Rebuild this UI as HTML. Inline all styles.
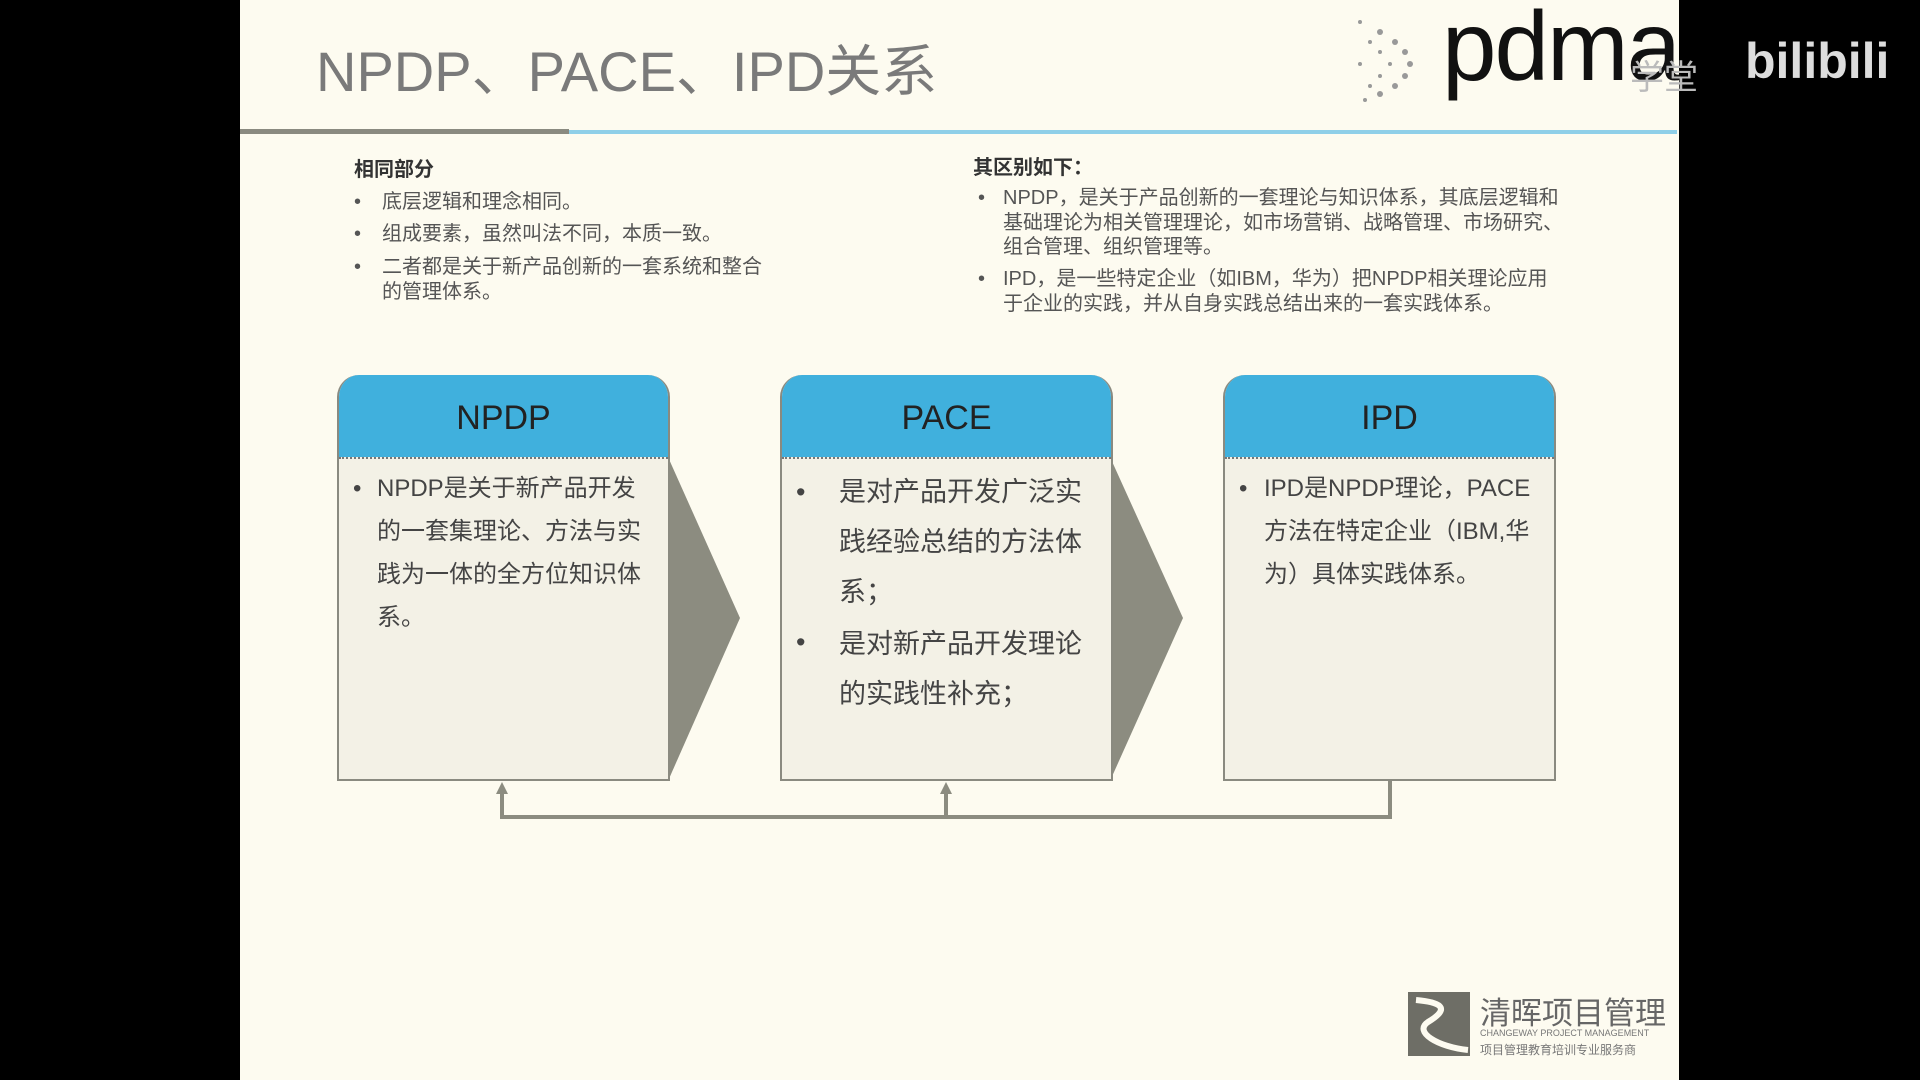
<!DOCTYPE html>
<html><head><meta charset="utf-8"><style>
*{margin:0;padding:0;box-sizing:border-box}
body{width:1920px;height:1080px;background:#000;position:relative;overflow:hidden;font-family:"Liberation Sans","Noto Sans CJK SC",sans-serif}
.slide{position:absolute;left:240px;top:0;width:1439px;height:1080px;background:#fdfbf0}
.a{position:absolute;white-space:nowrap}
.sm{font-size:20px;color:#555;line-height:24.5px}
.box{position:absolute;top:375px;width:333px;height:406px;border:2px solid #8a8a80;border-top:none;background:#f3f1e6;border-radius:22px 22px 0 0;overflow:hidden}
.hd{height:82px;background:#40b0dd;text-align:center;font-size:34px;line-height:86px;color:#222}
.bd{position:relative;border-top:2px dotted #777;color:#444}
</style></head><body>
<div class="slide"></div>
<div class="a" style="left:316px;top:27px;font-size:56px;color:#7a7a7a">NPDP、PACE、IPD关系</div>
<div class="a" style="left:240px;top:129px;width:329px;height:5px;background:#8a8a80"></div>
<div class="a" style="left:569px;top:130px;width:1108px;height:4px;background:#8fcfe8"></div>
<svg class="a" style="left:1340px;top:12px" width="100" height="90">
<g fill="#999">
<circle cx="20" cy="10" r="2"/><circle cx="40" cy="20" r="3"/><circle cx="55" cy="30" r="3"/><circle cx="65" cy="40" r="3"/><circle cx="70" cy="52" r="3"/><circle cx="65" cy="64" r="3"/><circle cx="55" cy="74" r="3"/><circle cx="40" cy="82" r="3"/><circle cx="25" cy="88" r="2"/>
<circle cx="30" cy="30" r="2"/><circle cx="40" cy="40" r="2"/><circle cx="50" cy="52" r="2"/><circle cx="40" cy="64" r="2"/><circle cx="30" cy="74" r="2"/><circle cx="20" cy="52" r="2"/>
</g></svg>
<div class="a" style="left:1442px;top:-10px;font-size:98px;color:#111;letter-spacing:-2px">pdma</div>
<div class="a" style="left:1630px;top:50px;font-size:34px;color:#bbb">学堂</div>
<div class="a" style="left:1745px;top:32px;font-size:50px;font-weight:bold;color:#ddd">bilibili</div>
<div class="a sm" style="left:354px;top:158px;font-weight:bold;color:#333">相同部分</div>
<div class="a sm" style="left:354px;top:190px">•</div><div class="a sm" style="left:382px;top:190px">底层逻辑和理念相同。</div>
<div class="a sm" style="left:354px;top:222px">•</div><div class="a sm" style="left:382px;top:222px">组成要素，虽然叫法不同，本质一致。</div>
<div class="a sm" style="left:354px;top:255px">•</div><div class="a sm" style="left:382px;top:255px">二者都是关于新产品创新的一套系统和整合<br>的管理体系。</div>
<div class="a sm" style="left:973px;top:156px;font-weight:bold;color:#333">其区别如下：</div>
<div class="a sm" style="left:978px;top:186px">•</div><div class="a sm" style="left:1003px;top:186px">NPDP，是关于产品创新的一套理论与知识体系，其底层逻辑和<br>基础理论为相关管理理论，如市场营销、战略管理、市场研究、<br>组合管理、组织管理等。</div>
<div class="a sm" style="left:978px;top:267px">•</div><div class="a sm" style="left:1003px;top:267px">IPD，是一些特定企业（如IBM，华为）把NPDP相关理论应用<br>于企业的实践，并从自身实践总结出来的一套实践体系。</div>
<svg class="a" style="left:0;top:0" width="1920" height="1080">
<polygon points="668,457 740,618 668,781" fill="#8c8c80"/>
<polygon points="1110,457 1183,618 1110,781" fill="#8c8c80"/>
<polyline points="1390,781 1390,817 502,817 502,790" fill="none" stroke="#8c8c80" stroke-width="4"/>
<line x1="946" y1="817" x2="946" y2="790" stroke="#8c8c80" stroke-width="4"/>
<polygon points="496,794 508,794 502,782" fill="#8c8c80"/>
<polygon points="940,794 952,794 946,782" fill="#8c8c80"/>
</svg>
<div class="box" style="left:337px"><div class="hd">NPDP</div><div class="bd" style="font-size:24px;line-height:43px;padding-top:8px">
<div class="a" style="left:14px;top:8px">•</div><div style="margin-left:38px;width:280px">NPDP是关于新产品开发的一套集理论、方法与实践为一体的全方位知识体系。</div></div></div>
<div class="box" style="left:780px"><div class="hd">PACE</div><div class="bd" style="font-size:27px;line-height:50px;padding-top:8px">
<div class="a" style="left:14px;top:8px">•</div><div style="margin-left:57px;width:260px">是对产品开发广泛实践经验总结的方法体系；</div>
<div class="a" style="left:14px;top:158px">•</div><div style="margin-left:57px;width:260px;margin-top:2px">是对新产品开发理论的实践性补充；</div></div></div>
<div class="box" style="left:1223px"><div class="hd">IPD</div><div class="bd" style="font-size:24px;line-height:43px;padding-top:8px">
<div class="a" style="left:14px;top:8px">•</div><div style="margin-left:39px;width:280px">IPD是NPDP理论，PACE方法在特定企业（IBM,华为）具体实践体系。</div></div></div>
<svg class="a" style="left:1408px;top:992px" width="62" height="64"><rect width="62" height="64" fill="#6e6e66"/><path d="M8 8 C30 10 45 15 20 30 C5 40 30 55 60 58" fill="none" stroke="#fdfbf0" stroke-width="6"/></svg>
<div class="a" style="left:1480px;top:988px;font-size:31px;color:#666">清晖项目管理</div>
<div class="a" style="left:1480px;top:1028px;font-size:9px;color:#777">CHANGEWAY PROJECT MANAGEMENT</div>
<div class="a" style="left:1480px;top:1041px;font-size:12px;color:#777">项目管理教育培训专业服务商</div>
</body></html>
